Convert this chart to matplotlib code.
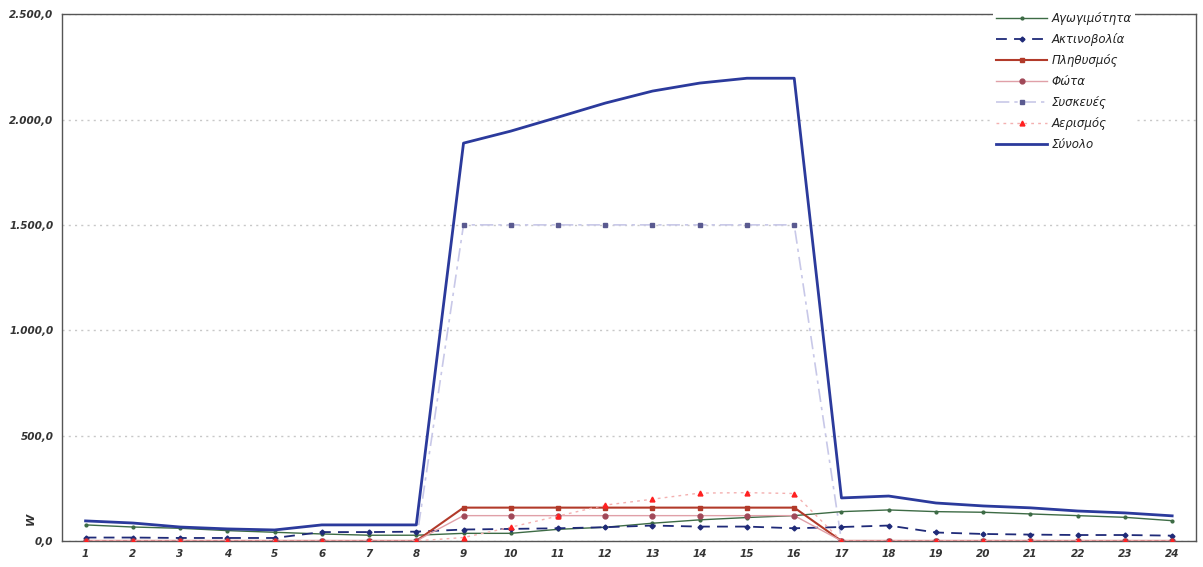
import numpy as np
import matplotlib
matplotlib.use("Agg")
import matplotlib.pyplot as plt
from matplotlib.ticker import FuncFormatter

hours = list(range(1, 25))

# W per hour
agogimotita = [76, 66, 60, 49, 41, 33, 27, 27, 36, 36, 55, 65,
               84, 100, 111, 120, 139, 147, 139, 136, 128, 120, 112, 96]
aktinovolia = [16, 16, 14, 14, 14, 42, 42, 44, 54, 57, 60, 65,
               73, 68, 68, 60, 66, 73, 40, 33, 30, 28, 28, 25]
plithysmos = [0, 0, 0, 0, 0, 0, 0, 0, 158, 158, 158, 158,
              158, 158, 158, 158, 0, 0, 0, 0, 0, 0, 0, 0]
fota = [0, 0, 0, 0, 0, 0, 0, 0, 120, 120, 120, 120,
        120, 120, 120, 120, 0, 0, 0, 0, 0, 0, 0, 0]
syskeves = [0, 0, 0, 0, 0, 0, 0, 0, 1500, 1500, 1500, 1500,
            1500, 1500, 1500, 1500, 0, 0, 0, 0, 0, 0, 0, 0]
aerismos = [0, 0, 0, 0, 0, 0, 0, 0, 16, 65, 118, 170,
            198, 227, 229, 225, 0, 0, 0, 0, 0, 0, 0, 0]
synolo = [95, 85, 66, 57, 52, 76, 76, 76, 1888, 1945, 2011, 2078,
          2135, 2173, 2196, 2196, 204, 213, 180, 166, 157, 142, 133, 119]


def gr_fmt(v, pos):
    s = "{:,.1f}".format(v)
    return s.replace(",", "X").replace(".", ",").replace("X", ".")


fig = plt.figure(figsize=(12.03, 5.67), dpi=100)
ax = fig.add_axes([0.0515, 0.046, 0.9425, 0.929])

ax.plot(hours, agogimotita, color="#3d6b45", lw=1.0, marker="o", ms=2,
        label="Αγωγιμότητα", zorder=4)
ax.plot(hours, aktinovolia, color="#1f2a78", lw=1.3, ls=(0, (6, 4)),
        marker="D", ms=2.5, label="Ακτινοβολία", zorder=4)
ax.plot(hours, plithysmos, color="#b23a2a", lw=1.5, marker="s", ms=3,
        label="Πληθυσμός", zorder=4)
ax.plot(hours, fota, color="#e0a0a8", lw=1.0, marker="o", ms=3.5,
        mfc="#a04858", mec="#a04858", label="Φώτα", zorder=4)
ax.plot(hours, syskeves, color="#c8c8e8", lw=1.2, ls=(0, (8, 3, 2, 3)),
        marker="s", ms=3, mfc="#5a5a90", mec="#5a5a90",
        label="Συσκευές", zorder=3)
ax.plot(hours, aerismos, color="#f4b0b0", lw=1.0, ls=(0, (2, 3)),
        marker="^", ms=3.5, mfc="#ff2020", mec="#ff2020",
        label="Αερισμός", zorder=4)
ax.plot(hours, synolo, color="#2b3a9c", lw=2.0, label="Σύνολο", zorder=5)

ax.set_xlim(0.5, 24.5)
ax.set_ylim(0, 2500)
ax.set_xticks(hours)
ax.set_yticks(np.arange(0, 2501, 500))
ax.yaxis.set_major_formatter(FuncFormatter(gr_fmt))
ax.tick_params(axis="both", length=0, labelsize=7.5, pad=6)
for lab in ax.get_xticklabels() + ax.get_yticklabels():
    lab.set_fontstyle("italic")
    lab.set_fontweight("bold")
    lab.set_color("#333333")

ax.grid(axis="y", color="#c8c8c8", ls=(0, (1.5, 3)), lw=1.0)
for sp in ax.spines.values():
    sp.set_color("#555555")
    sp.set_linewidth(1.0)

fig.text(0.026, 0.085, "W", rotation=90, fontsize=8, fontweight="bold",
         fontstyle="italic", color="#333333", ha="center", va="center")

leg = ax.legend(loc="upper right", bbox_to_anchor=(0.952, 1.022),
                frameon=True, fontsize=8.5, handlelength=4.3,
                labelspacing=0.68, borderpad=0.3, handletextpad=0.4)
leg.get_frame().set_edgecolor("none")
leg.get_frame().set_facecolor("white")
leg.get_frame().set_alpha(1)
for t in leg.get_texts():
    t.set_fontstyle("italic")
    t.set_color("#222222")

fig.savefig("out.png", dpi=100)
